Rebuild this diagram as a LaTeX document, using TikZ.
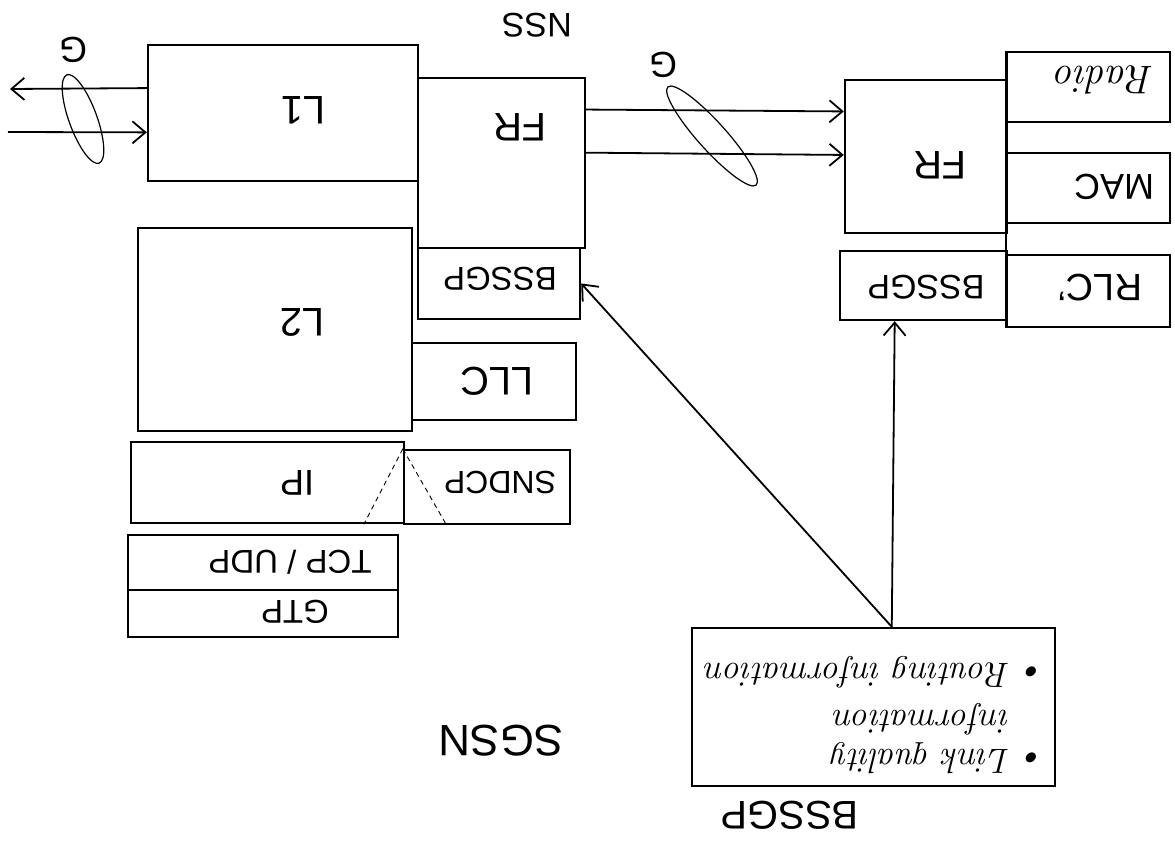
\documentclass[tikz,border=0pt]{standalone}
\usepackage{fontspec}
\usepackage{graphicx}
\setsansfont{Liberation Sans}
\usetikzlibrary{arrows.meta,fit,calc}
\newcommand{\flipT}[1]{\rotatebox[origin=c]{180}{#1}}
\begin{document}
\begin{tikzpicture}[x=1pt,y=-1pt,
  box/.style={draw, line width=2.4pt, inner sep=0pt},
  txt/.style={inner sep=0pt, font=\sffamily\fontsize{#1}{#1}\selectfont},
  ital/.style={inner sep=0pt, font=\itshape\fontsize{#1}{#1}\selectfont},
  arr/.style={line width=1.8pt, -{Straight Barb[length=13pt,width=22pt]}},
  loop/.style={line width=1.2pt},
  hint/.style={line width=0.9pt, dash pattern=on 5pt off 4pt}
]
\useasboundingbox (0,0) rectangle (1175,843);

% ---- SGSN stack (left) ----
\node[box, fit={(148,45) (418,181)}] (l1) {};
\node[box, fit={(418,78) (585,248)}] (frL) {};
\node[box, fit={(418,248) (580,319)}] (bssgpL) {};
\node[box, fit={(138,228) (412,431)}] (l2) {};
\node[box, fit={(412,343) (576,420)}] (llc) {};
\node[box, fit={(131,442) (404,523)}] (ip) {};
\node[box, fit={(404,450) (570,524)}] (sndcp) {};
\node[box, fit={(128,535) (398,590)}] (tcp) {};
\node[box, fit={(128,590) (398,637)}] (gtp) {};

% ---- BSS stack (right) ----
\node[box, fit={(845,80) (1007,233)}] (frR) {};
\node[box, fit={(1007,52) (1170,122)}] (radio) {};
\node[box, fit={(1007,153) (1170,223)}] (mac) {};
\node[box, fit={(840,251) (1007,320)}] (bssgpR) {};
\node[box, fit={(1007,255) (1170,327)}] (rlc) {};
\draw[line width=2.4pt] (radio.north west) -- (rlc.south west);

% ---- info box ----
\node[box, fit={(692,628) (1055,786)}] (info) {};

% ---- texts ----
\node[txt=40] (l1t) at (303,110) {\flipT{L1}};
\node[txt=40] (frLt) at (520,127) {\flipT{FR}};
\node[txt=40] (l2t) at (302,322) {\flipT{L2}};
\node[txt=33] (bssgpLt) at (500,279) {\flipT{BSSGP}};
\node[txt=40] (llct) at (497,381) {\flipT{LLC}};
\node[txt=36] (ipt) at (297,483) {\flipT{IP}};
\node[txt=32] (sndcpt) at (500,483) {\flipT{SNDCP}};
\node[txt=33] (tcpt) at (290,562) {\flipT{TCP / UDP}};
\node[txt=33] (gtpt) at (295,612) {\flipT{GTP}};
\node[txt=34] (nsst) at (537,25) {\flipT{NSS}};
\node[txt=44] (sgsnt) at (501,741) {\flipT{SGSN}};
\node[txt=40] (frRt) at (940,165) {\flipT{FR}};
\node[ital=40] (radiot) at (1105,80) {\flipT{Radio}};
\node[txt=36] (mact) at (1114,187) {\flipT{MAC}};
\node[txt=38] (rlct) at (1100,288) {\flipT{RLC'}};
\node[txt=34] (bssgpRt) at (926,287) {\flipT{BSSGP}};
\node[txt=40] (bssgpBt) at (790,815) {\flipT{BSSGP}};
\node[txt=36] (gL) at (73,50) {\flipT{G}};
\node[txt=36] (gR) at (663,65) {\flipT{G}};
\node[inner sep=0pt, font=\itshape\fontsize{35}{39}\selectfont] (infot) at (876,714)
  {\flipT{\begin{tabular}{@{}l@{\hspace{10pt}}l@{}}\textbullet & Link quality\\ & information\\[8pt] \textbullet & Routing information\end{tabular}}};

% ---- connectors ----
\coordinate (outA) at (10,89);
\coordinate (inB) at (8,132);
\draw[arr] ($(l1.north west)!0.32!(l1.south west)$) -- (outA);
\draw[arr] (inB) -- ($(l1.north west)!0.64!(l1.south west)$);
\draw[arr] ($(frL.north east)!0.19!(frL.south east)$) -- ($(frR.north west)!0.21!(frR.south west)$);
\draw[arr] ($(frL.north east)!0.44!(frL.south east)$) -- ($(frR.north west)!0.49!(frR.south west)$);
\draw[arr] ($(info.north west)!0.55!(info.north east)$) -- ($(bssgpR.south west)!0.33!(bssgpR.south east)$);
\draw[arr] ($(info.north west)!0.55!(info.north east)$) -- (bssgpL.east);

% ---- interface loops ----
\draw[loop, shift={(83,119)}, rotate=20] (0,0) ellipse [x radius=14pt, y radius=47pt];
\draw[loop, shift={(712,136)}, rotate=-48] (0,0) ellipse [x radius=66pt, y radius=14pt];

% ---- dashed mapping lines ----
\draw[hint] (sndcp.north west) -- ($(ip.south west)!0.85!(ip.south east)$);
\draw[hint] (sndcp.north west) -- ($(sndcp.south west)!0.26!(sndcp.south east)$);
\end{tikzpicture}
\end{document}
